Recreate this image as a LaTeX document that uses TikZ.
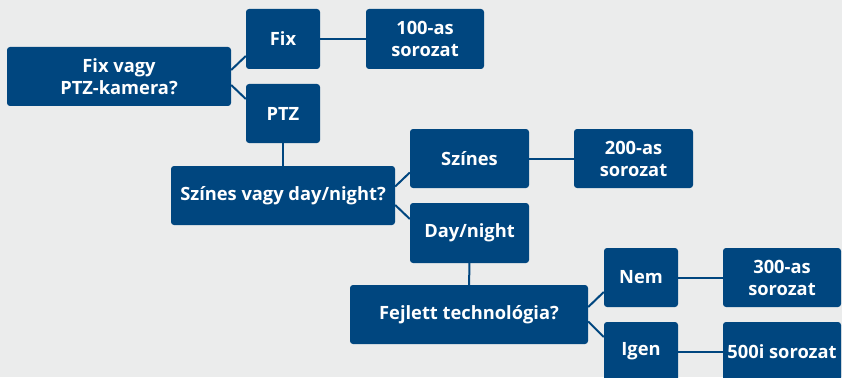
\documentclass[tikz,border=0pt]{standalone}
\usepackage{fontspec}
\setmainfont{Open Sans}
\definecolor{bg}{RGB}{235,236,236}
\definecolor{bosch}{RGB}{0,70,127}
\tikzset{
  box/.style={fill=bosch, rounded corners=3pt, text=white, font=\bfseries\fontsize{18.3}{22}\selectfont, align=center, inner sep=0pt},
  conn/.style={draw=bosch, line width=2pt},
}
\begin{document}
\begin{tikzpicture}[x=1pt,y=-1pt]
\fill[bg] (0,0) rectangle (842,377);
\clip (0,0) rectangle (842,377);
\useasboundingbox (0,0) rectangle (842,377);
% nodes
\node[box, minimum width=224pt, minimum height=59pt] (q1) at (119,76.5) {Fix vagy\\PTZ-kamera?};
\node[box, minimum width=74pt, minimum height=60pt] (fix) at (283,39) {Fix};
\node[box, minimum width=118pt, minimum height=60pt] (s100) at (425,39) {100-as\\sorozat};
\node[box, minimum width=74pt, minimum height=59pt] (ptz) at (283,113.5) {PTZ};
\node[box, minimum width=224pt, minimum height=59pt] (q2) at (283,195.5) {Színes vagy day/night?};
\node[box, minimum width=119pt, minimum height=59pt] (szines) at (469.5,158.5) {Színes};
\node[box, minimum width=119pt, minimum height=59pt] (s200) at (633.5,158.5) {200-as\\sorozat};
\node[box, minimum width=119pt, minimum height=60pt] (dn) at (469.5,233) {Day/night};
\node[box, minimum width=238pt, minimum height=59pt] (q3) at (469,314.5) {Fejlett technológia?};
\node[box, minimum width=74pt, minimum height=59pt] (nem) at (641,277.5) {Nem};
\node[box, minimum width=118pt, minimum height=59pt] (s300) at (782,277.5) {300-as\\sorozat};
\node[box, minimum width=74pt, minimum height=59pt] (igen) at (641,351.5) {Igen};
\node[box, minimum width=118pt, minimum height=59pt] (s500) at (782,351.5) {500i sorozat};
% connectors
\draw[conn] ([yshift=6.5pt]q1.east) -- ([yshift=-17pt]fix.west);
\draw[conn] ([yshift=-8.5pt]q1.east) -- ([yshift=14.5pt]ptz.west);
\draw[conn] (fix) -- (s100);
\draw[conn] (ptz) -- (q2);
\draw[conn] ([yshift=9pt]q2.east) -- ([yshift=-14pt]szines.west);
\draw[conn] ([yshift=-9.5pt]q2.east) -- ([yshift=14pt]dn.west);
\draw[conn] (szines) -- (s200);
\draw[conn] (dn) -- (q3);
\draw[conn] ([yshift=7.5pt]q3.east) -- ([yshift=-14.5pt]nem.west);
\draw[conn] ([yshift=-7pt]q3.east) -- ([yshift=14.5pt]igen.west);
\draw[conn] (nem) -- (s300);
\draw[conn] (igen) -- (s500);
\end{tikzpicture}
\end{document}
